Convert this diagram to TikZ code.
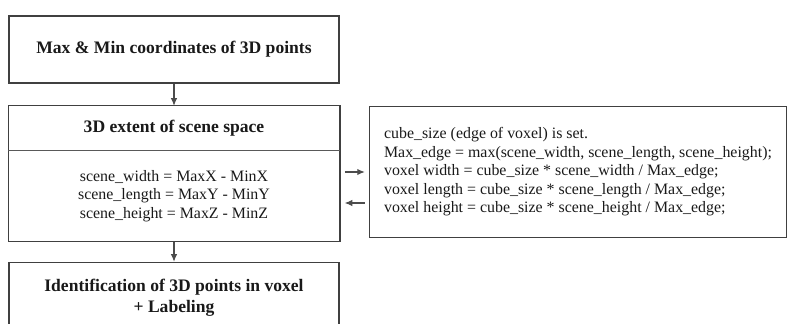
\documentclass[tikz,border=0pt]{standalone}
\usepackage{fontspec}
\setmainfont{Liberation Serif}
\usetikzlibrary{arrows.meta,positioning}
\tikzset{
	boxline/.style={draw=black!75, line width=0.85pt},
	divider/.style={draw=black!65, line width=0.5pt},
	titlebox/.style={boxline, minimum width=6.6cm, align=center, font=\fontsize{10}{12}\selectfont\bfseries, text=black!90},
	textbox/.style={boxline, align=left, font=\fontsize{9.05}{10.5}\selectfont, text=black!90},
	arr/.style={draw=black!70, line width=0.6pt, -{Latex[length=1.5mm,width=1.3mm]}},
}

\begin{document}
\begin{tikzpicture}
			%%%%% START %%%%%
			
			\useasboundingbox (0, 0) rectangle (15.74, 6.46);
			\clip (0, 0) rectangle (15.74, 6.46);
			
			\node[titlebox, minimum height=1.34cm] (maxmin) at (3.48, 5.47) {Max \& Min coordinates of 3D points};
			
			\node[titlebox, draw=none, minimum height=0.86cm, below=0.44cm of maxmin] (head) {3D extent of scene space};
			\node[textbox, draw=none, align=center, minimum width=6.6cm, minimum height=1.8cm, below=0cm of head] (body) {scene\_width = MaxX - MinX\\scene\_length = MaxY - MinY\\scene\_height = MaxZ - MinZ};
			\draw[boxline] (head.north west) rectangle (body.south east);
			\draw[divider] (head.south west) -- (head.south east);
			
			\node[textbox, minimum width=8.34cm, minimum height=2.62cm, anchor=north west] (voxelbox) at ([xshift=0.58cm]head.north east) {cube\_size (edge of voxel) is set.\\Max\_edge = max(scene\_width, scene\_length, scene\_height);\\voxel width = cube\_size * scene\_width / Max\_edge;\\voxel length = cube\_size * scene\_length / Max\_edge;\\voxel height = cube\_size * scene\_height / Max\_edge;};
			
			\node[titlebox, minimum height=1.42cm, below=0.4cm of body] (label) {Identification of 3D points in voxel\\+ Labeling};
			
			\draw[arr] (maxmin) -- (head);
			\draw[arr] (body) -- (label);
			\draw[arr, shorten <=0.1cm, shorten >=0.08cm] (body.east |- voxelbox.west) -- (voxelbox.west);
			\draw[arr, shorten <=0.08cm, shorten >=0.1cm] ([yshift=-0.62cm]voxelbox.west) -- ([yshift=-0.62cm]body.east |- voxelbox.west);
			
			%%%%% END %%%%%
		\end{tikzpicture}
\end{document}
